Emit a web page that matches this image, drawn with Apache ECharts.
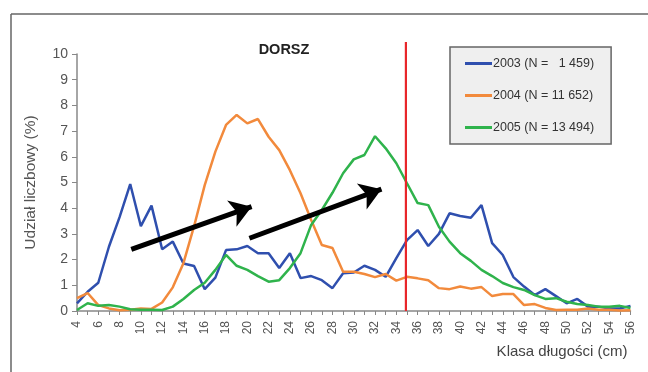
<!DOCTYPE html>
<html>
<head>
<meta charset="utf-8">
<script src="https://cdn.jsdelivr.net/npm/echarts@6/dist/echarts.min.js"></script>
<style>
html,body{margin:0;padding:0;background:#fff;}
#c{width:648px;height:372px;}
</style>
</head>
<body>
<div id="c"></div>
<script>
var lengths = [4,5,6,7,8,9,10,11,12,13,14,15,16,17,18,19,20,21,22,23,24,25,26,27,28,29,30,31,32,33,34,35,36,37,38,39,40,41,42,43,44,45,46,47,48,49,50,51,52,53,54,55,56];
var s2003 = [0.3,0.75,1.1,2.5,3.65,4.94,3.3,4.1,2.4,2.7,1.85,1.75,0.85,1.3,2.37,2.4,2.53,2.25,2.25,1.67,2.25,1.28,1.36,1.2,0.89,1.47,1.5,1.76,1.6,1.33,2.06,2.76,3.15,2.53,3.0,3.8,3.7,3.63,4.12,2.64,2.18,1.32,0.95,0.62,0.85,0.58,0.3,0.47,0.17,0.17,0.1,0.1,0.2];
var s2004 = [0.5,0.7,0.23,0.1,0.03,0.05,0.1,0.08,0.33,0.92,1.86,3.3,4.9,6.2,7.24,7.63,7.3,7.47,6.78,6.26,5.48,4.58,3.54,2.57,2.45,1.53,1.53,1.44,1.32,1.44,1.18,1.33,1.27,1.2,0.89,0.85,0.95,0.87,0.93,0.58,0.66,0.66,0.23,0.27,0.12,0.04,0.05,0.05,0.1,0.05,0.05,0.02,0.03];
var s2005 = [0.04,0.3,0.2,0.23,0.17,0.07,0.05,0.05,0.04,0.17,0.47,0.82,1.1,1.6,2.18,1.76,1.6,1.36,1.14,1.2,1.67,2.25,3.35,3.93,4.6,5.36,5.9,6.07,6.8,6.33,5.75,4.97,4.2,4.12,3.28,2.7,2.25,1.95,1.6,1.36,1.09,0.93,0.82,0.62,0.47,0.5,0.36,0.27,0.23,0.17,0.17,0.2,0.12];
var seriesNames = ['2003 (N =   1 459)', '2004 (N = 11 652)', '2005 (N = 13 494)'];
var yTicks = [0,1,2,3,4,5,6,7,8,9,10];
var redLineX = 34.9;
var redLineTop = 10.47;
var arrow1 = [[9.1, 2.4], [20.4, 4.06]];
var arrow2 = [[20.2, 2.83], [32.6, 4.74]];

var colors = ['#2f4fae', '#f28a3c', '#2fb34c'];
function pairs(vals){ return lengths.map(function(x,i){ return [x, vals[i]]; }); }
var FONT = '"Liberation Sans", Arial, sans-serif';

var chart = echarts.init(document.getElementById('c'));
function lineSeries(name, vals, color){
  return {
    name: name, type: 'line', data: pairs(vals), showSymbol: false, symbol: 'none',
    lineStyle: {color: color, width: 2.5}, itemStyle: {color: color},
    emphasis: {disabled: true}, silent: true, z: 3
  };
}
var option = {
  animation: false,
  title: {text: 'DORSZ', left: 279, textAlign: 'center', top: 37,
    textStyle: {fontFamily: FONT, fontSize: 14.5, fontWeight: 'bold', color: '#222'}},
  legend: {
    orient: 'vertical', left: 450, top: 47,
    data: seriesNames,
    icon: 'rect', itemWidth: 27, itemHeight: 3, itemGap: 19,
    padding: [10, 17, 10, 15],
    backgroundColor: '#efefef', borderColor: '#666', borderWidth: 1.5,
    textStyle: {fontFamily: FONT, fontSize: 12.5, color: '#333', padding: [0,0,0,-4]},
    selectedMode: false
  },
  grid: {left: 77, right: 17.5, top: 54, bottom: 61, containLabel: false},
  xAxis: {
    type: 'value', min: 4, max: 56, interval: 1,
    name: 'Klasa długości (cm)', nameLocation: 'end', nameGap: -3,
    nameTextStyle: {fontFamily: FONT, fontSize: 15, color: '#444', align: 'right', verticalAlign: 'top', padding: [33, 0, 0, 0]},
    axisLine: {lineStyle: {color: '#888', width: 1.5}},
    axisTick: {show: true, length: 4, lineStyle: {color: '#888'}},
    splitLine: {show: false},
    axisLabel: {rotate: 90, margin: 10, fontFamily: FONT, fontSize: 12, color: '#555',
      formatter: function(v){ return (v % 2 === 0) ? String(v) : ''; }}
  },
  yAxis: {
    type: 'value', min: yTicks[0], max: yTicks[yTicks.length-1], interval: 1,
    name: 'Udział liczbowy (%)', nameLocation: 'middle', nameGap: 38,
    nameTextStyle: {fontFamily: FONT, fontSize: 15.5, color: '#555'},
    axisLine: {show: true, lineStyle: {color: '#888', width: 1.5}},
    axisTick: {show: true, length: 5, lineStyle: {color: '#888'}},
    splitLine: {show: false},
    axisLabel: {margin: 9, fontFamily: FONT, fontSize: 14, color: '#555'}
  },
  series: [
    lineSeries(seriesNames[0], s2003, colors[0]),
    lineSeries(seriesNames[1], s2004, colors[1]),
    lineSeries(seriesNames[2], s2005, colors[2]),
    {
      type: 'line', data: [], silent: true, z: 5,
      markLine: {
        silent: true, symbol: ['none', 'arrow'], symbolSize: 21,
        label: {show: false}, emphasis: {disabled: true},
        lineStyle: {color: '#000', width: 5, type: 'solid'},
        itemStyle: {color: '#000'},
        data: [
          [{coord: arrow1[0]}, {coord: arrow1[1]}],
          [{coord: arrow2[0]}, {coord: arrow2[1]}]
        ]
      }
    }
  ]
};
chart.setOption(option);

var pBottom = chart.convertToPixel({gridIndex: 0}, [redLineX, 0]);
var pTop = chart.convertToPixel({gridIndex: 0}, [redLineX, redLineTop]);
chart.setOption({
  graphic: [
    {type: 'line', shape: {x1: pBottom[0], y1: pBottom[1], x2: pTop[0], y2: pTop[1]},
      style: {stroke: '#e8262a', lineWidth: 2.2}, z: 10, silent: true},
    {type: 'line', shape: {x1: 11, y1: 14, x2: 648, y2: 14}, style: {stroke: '#666', lineWidth: 1.5}, silent: true},
    {type: 'line', shape: {x1: 11, y1: 14, x2: 11, y2: 372}, style: {stroke: '#666', lineWidth: 1.5}, silent: true}
  ]
});
</script>
</body>
</html>
